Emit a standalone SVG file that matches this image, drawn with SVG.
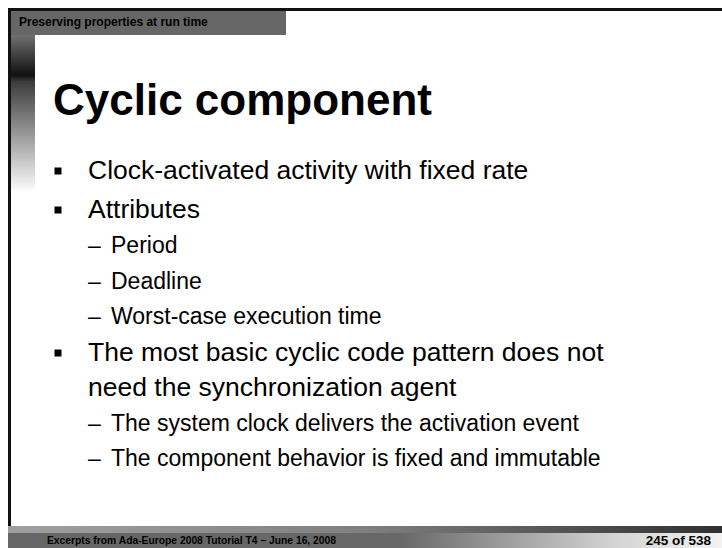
<svg xmlns="http://www.w3.org/2000/svg" width="722" height="548" viewBox="0 0 722 548">
<defs>
<linearGradient id="sideGrad" x1="0" y1="0" x2="0" y2="1">
<stop offset="0" stop-color="#707070"/>
<stop offset="0.26" stop-color="#101010"/>
<stop offset="0.30" stop-color="#3c3c3c"/>
<stop offset="1" stop-color="#fafafa"/>
</linearGradient>
<linearGradient id="bandTop" x1="0" y1="0" x2="1" y2="0">
<stop offset="0" stop-color="#a0a0a0"/>
<stop offset="0.5" stop-color="#808080"/>
<stop offset="1" stop-color="#303030"/>
</linearGradient>
<linearGradient id="bandBottom" x1="0" y1="0" x2="1" y2="0">
<stop offset="0" stop-color="#666666"/>
<stop offset="0.55" stop-color="#686868"/>
<stop offset="0.85" stop-color="#d4d4d4"/>
<stop offset="1" stop-color="#f2f2f2"/>
</linearGradient>
</defs>
<style>
text{font-family:"Liberation Sans",Arial,sans-serif;fill:#000}
.hdr{font-size:12px;font-weight:bold}
.title{font-size:44px;font-weight:bold}
.l1{font-size:26.5px}
.l2{font-size:23px}
.foot{font-size:10.3px;font-weight:bold}
.page{font-size:13.5px;font-weight:bold}
.bul{fill:#000}
</style>
<rect width="722" height="548" fill="#ffffff"/>
<g id="frame">
<rect x="8" y="8" width="714" height="3" fill="#111"/>
<rect x="8" y="8" width="3" height="518" fill="#111"/>
<rect x="11" y="11" width="275" height="24" fill="#666666"/>
<rect x="11" y="35" width="24" height="155" fill="url(#sideGrad)"/>
</g>
<g id="header">
<text class="hdr" x="19" y="26">Preserving properties at run time</text>
</g>
<g id="title">
<text class="title" x="53" y="115">Cyclic component</text>
</g>
<g id="body">
<rect class="bul" x="54.5" y="167.5" width="7" height="7"/>
<text class="l1" x="88" y="179">Clock-activated activity with fixed rate</text>
<rect class="bul" x="54.5" y="206.5" width="7" height="7"/>
<text class="l1" x="88" y="218">Attributes</text>
<text class="l2" x="88" y="253">–</text><text class="l2" x="111" y="253">Period</text>
<text class="l2" x="88" y="288.5">–</text><text class="l2" x="111" y="288.5">Deadline</text>
<text class="l2" x="88" y="324">–</text><text class="l2" x="111" y="324">Worst-case execution time</text>
<rect class="bul" x="54.5" y="349.5" width="7" height="7"/>
<text class="l1" x="88" y="361">The most basic cyclic code pattern does not</text>
<text class="l1" x="88" y="396">need the synchronization agent</text>
<text class="l2" x="88" y="431">–</text><text class="l2" x="111" y="431">The system clock delivers the activation event</text>
<text class="l2" x="88" y="466">–</text><text class="l2" x="111" y="466">The component behavior is fixed and immutable</text>
</g>
<g id="footer">
<rect x="8" y="526" width="714" height="7" fill="url(#bandTop)"/>
<rect x="8" y="533" width="714" height="15" fill="url(#bandBottom)"/>
<text class="foot" x="47" y="544">Excerpts from Ada-Europe 2008 Tutorial T4 – June 16, 2008</text>
<text class="page" x="711" y="545" text-anchor="end">245 of 538</text>
</g>
</svg>
